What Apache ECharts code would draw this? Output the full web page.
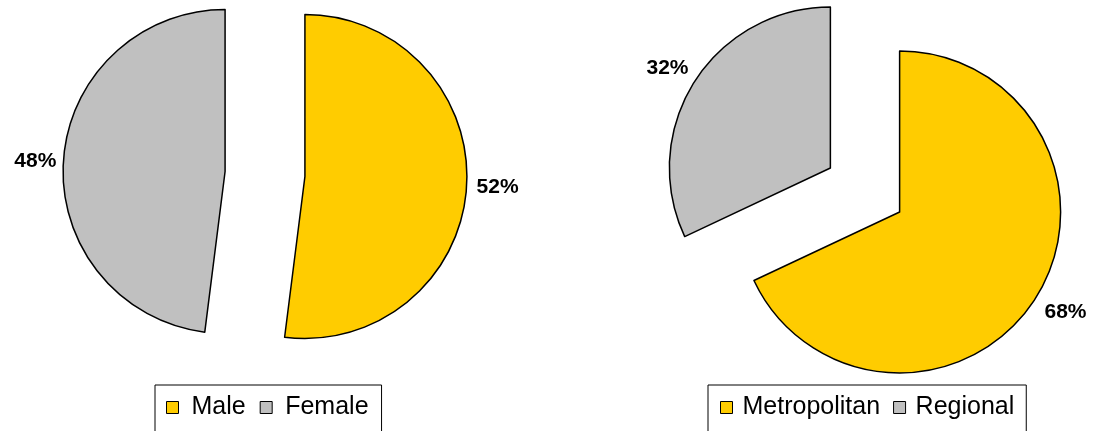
<!DOCTYPE html>
<html>
<head>
<meta charset="utf-8">
<script src="https://cdn.jsdelivr.net/npm/echarts@6/dist/echarts.min.js"></script>
<style>
  html, body { margin: 0; padding: 0; background: #fff; }
  #chart { width: 1103px; height: 431px; }
</style>
</head>
<body>
<div id="chart"></div>
<script>
// data
const genderNames = ['Male', 'Female'];
const genderValues = [52, 48];
const regionNames = ['Metropolitan', 'Regional'];
const regionValues = [68, 32];
const sliceColors = ['#FFCC00', '#C0C0C0'];

// label leader distances (radial, horizontal) per slice, lines hidden
const genderLabelGap = [[3, 2], [3, -1]];
const regionLabelGap = [[26, -18], [26, -21]];

const toItems = (names, values, gaps) => names.map((n, i) => ({
    name: n,
    value: values[i],
    selected: true,
    itemStyle: { color: sliceColors[i] },
    labelLine: { show: false, length: gaps[i][0], length2: gaps[i][1] }
}));

const pieSeries = (names, values, gaps, center, radius, offset) => ({
    type: 'pie',
    center: center,
    radius: radius,
    startAngle: 90,
    clockwise: true,
    selectedMode: 'multiple',
    selectedOffset: offset,
    animation: false,
    silent: true,
    itemStyle: { borderColor: '#000', borderWidth: 1.5 },
    label: {
        show: true,
        position: 'outside',
        formatter: '{d}%',
        fontFamily: 'Liberation Sans',
        fontWeight: 'bold',
        fontSize: 21,
        color: '#000'
    },
    labelLine: { show: false },
    emphasis: { disabled: true },
    data: toItems(names, values, gaps)
});

// the two legend boxes are spaced a little differently
const legendBox = (names, left, pad, gap, textPad) => ({
    data: names,
    left: left,
    top: 385,
    orient: 'horizontal',
    icon: 'rect',
    itemWidth: 12,
    itemHeight: 12,
    itemGap: gap,
    selectedMode: false,
    padding: pad,
    borderColor: '#000',
    borderWidth: 1,
    itemStyle: { borderColor: '#000', borderWidth: 1 },
    textStyle: {
        fontFamily: 'Liberation Sans',
        fontSize: 25,
        color: '#000',
        padding: [0, 0, 0, textPad]
    }
});

const chart = echarts.init(document.getElementById('chart'));
chart.setOption({
    backgroundColor: '#fff',
    legend: [
        legendBox(genderNames, 155, [10, 13, 30, 11], 14, 8),
        legendBox(regionNames, 708, [10, 12, 30, 12], 13, 5)
    ],
    series: [
        pieSeries(genderNames, genderValues, genderLabelGap, [265, 174], 162, 40),
        pieSeries(regionNames, regionValues, regionLabelGap, [865, 190], 161, 41)
    ]
});
</script>
</body>
</html>
